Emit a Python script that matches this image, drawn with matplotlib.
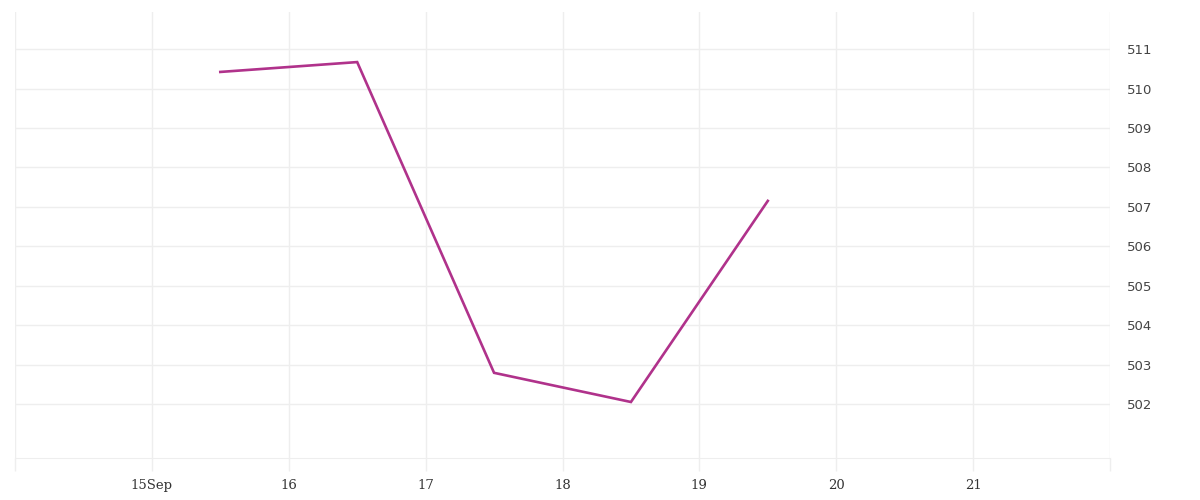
import matplotlib.pyplot as plt
from datetime import datetime

dates = [datetime(2023, 9, d, 12) for d in [15, 16, 17, 18, 19]]
values = [510.42, 510.67, 502.79, 502.05, 507.15]

tick_days = [datetime(2023, 9, d) for d in range(14, 23)]
tick_labels = ['', '15Sep', '16', '17', '18', '19', '20', '21', '']
y_ticks = [502, 503, 504, 505, 506, 507, 508, 509, 510, 511]

grid_c = '#eeeeee'

fig = plt.figure(figsize=(12, 5), dpi=100)
ax = fig.add_axes([0.0125, 0.084, 0.9125, 0.892])

ax.plot(dates, values, color='#b0328b', linewidth=1.9, solid_joinstyle='miter')

ax.set_xlim(tick_days[0], tick_days[-1])
ax.set_ylim(500.63, 511.94)

ax.set_xticks(tick_days)
ax.set_xticklabels(tick_labels, family='DejaVu Serif', fontsize=9.5, color='#333333')
ax.tick_params(axis='x', length=9, width=1, color=grid_c, pad=6)

ax.yaxis.tick_right()
ax.set_yticks(y_ticks)
ax.set_yticklabels([str(v) for v in y_ticks], family='DejaVu Sans', fontsize=9.5, color='#444444')
ax.tick_params(axis='y', length=0, pad=12)

ax.grid(True, color=grid_c, linewidth=1)
ax.set_axisbelow(True)
for s in ['top', 'left', 'right']:
    ax.spines[s].set_visible(False)
ax.spines['bottom'].set_color(grid_c)

plt.savefig('out.png', dpi=100)
